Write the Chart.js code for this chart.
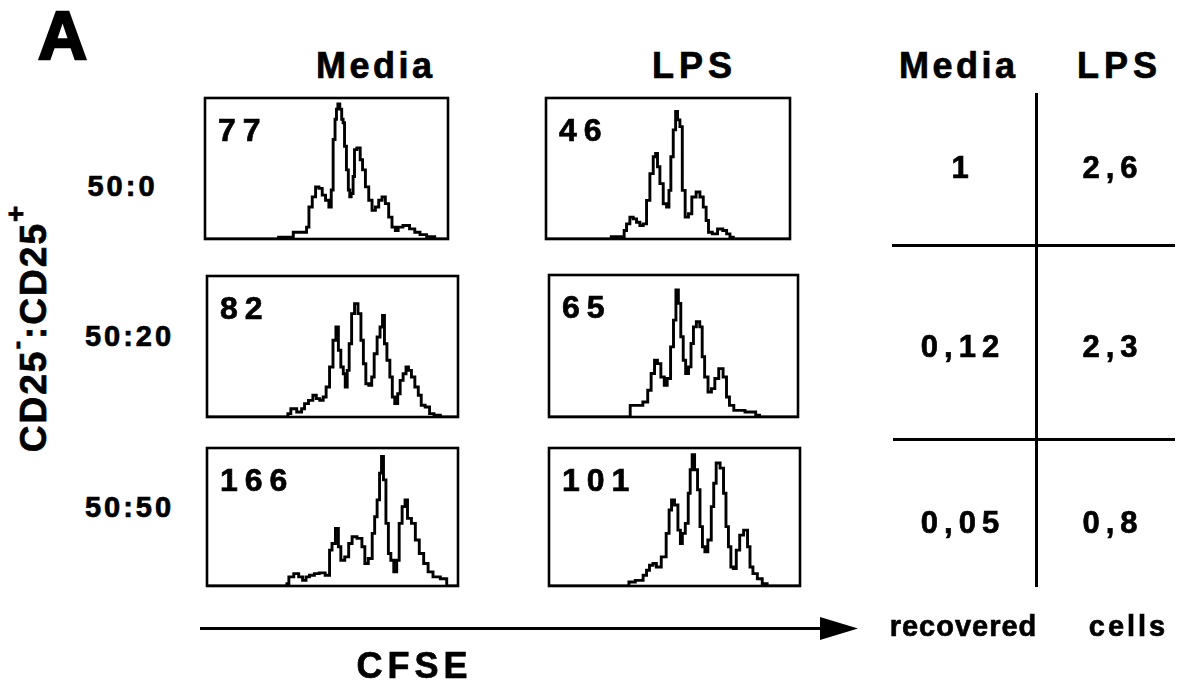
<!DOCTYPE html>
<html>
<head>
<meta charset="utf-8">
<script src="https://cdn.jsdelivr.net/npm/chart.js@4/dist/chart.umd.min.js"></script>
<style>
html,body{margin:0;padding:0;background:#fff;}
#fig{position:relative;width:1179px;height:688px;overflow:hidden;background:#fff;font-family:"Liberation Sans",Arial,Helvetica,sans-serif;font-weight:bold;color:#000;}
.t{position:absolute;white-space:nowrap;line-height:1;font-weight:bold;-webkit-text-stroke:0.7px #000;}
canvas{position:absolute;}
.ln{position:absolute;background:#000;}
</style>
</head>
<body>
<div id="fig"></div>
<script>
// ---- data ----
const columns = ["Media", "LPS"];
const rows = ["50:0", "50:20", "50:50"];
const panelCounts = [["77", "46"], ["82", "65"], ["166", "101"]];
const recovered = [["1", "2,6"], ["0,12", "2,3"], ["0,05", "0,8"]];

// CFSE channel (x) and relative cell count (y) for each histogram
const media_0_ch  = [0,77,78,92,94,106,108,111,115,118,122,125,129,132,134,136,138,139,141,143,145,146,148,150,152,153,155,157,158,162,165,167,171,174,178,181,185,188,192,195,199,202,205,212,219,223,230,237,247,256];
const media_0_cnt = [0,0,1.2,1.2,4.8,4.8,8.4,22.7,29.9,37,35.9,31.1,27.5,22.7,34.7,70.6,84.9,92.1,95.7,92.1,84.9,82.5,65.8,49,34.7,29.9,32.3,44.3,63.4,64.6,56.2,49,37,27.5,20.3,22.7,27.5,29.9,25.1,15.5,8.4,6,8.4,9.6,7.2,4.8,3.1,1.7,0,0];

const lps_0_ch  = [0,68,69,81,83,86,90,93,97,100,104,107,111,114,116,118,121,125,128,130,132,135,137,139,142,144,148,151,155,160,163,167,169,172,177,183,188,191,195,198,256];
const lps_0_cnt = [0,0,1.7,1.7,6,10.7,15.5,14.3,11.9,9.5,10.7,27.4,46.4,58.3,60.7,51.2,39.3,25,22.6,34.5,58.3,77.4,90.4,84.5,79.7,34.5,15.5,17.9,29.8,33.3,29.8,22.6,13.1,4.8,3.6,7.1,6,3.6,1.2,0,0];

const media_20_ch  = [0,82,83,88,95,98,101,106,110,113,117,120,123,127,130,133,135,138,140,142,144,146,149,152,156,158,161,163,167,169,172,175,178,180,182,185,188,190,193,196,198,202,204,207,210,214,217,220,225,229,234,242,256];
const media_20_cnt = [0,0,2.4,5.9,3.5,5.9,9.5,11.8,15.4,13,11.8,14.2,21.3,35.5,54.4,63.8,47.3,35.5,30.7,21.3,33.1,52,73.3,80.4,73.3,54.4,37.8,23.6,22.5,28.4,44.9,56.7,63.8,72.1,52,40.2,28.4,14.2,9.5,16.5,26,30.7,35.5,33.1,28.4,21.3,15.4,8.3,7.1,2.4,1.2,0,0];

const lps_20_ch  = [0,83,84,93,100,103,107,110,113,117,120,123,127,129,132,134,137,139,142,145,147,150,153,157,158,162,165,169,172,177,181,184,187,193,210,215,218,256];
const lps_20_cnt = [0,0,8.2,8.2,10.6,18.8,30.6,40,37.6,28.2,22.4,27.1,49.4,68.2,89.4,80,56.5,40,30.6,35.3,51.8,63.5,67.1,63.5,42.4,28.2,17.6,20,27.1,34.1,28.2,14.1,8.2,4.7,3.5,1.2,0,0];

const media_50_ch  = [0,81,82,85,92,95,100,102,107,112,117,124,126,129,133,135,138,143,146,150,156,160,162,167,170,172,175,177,179,181,184,186,189,192,195,197,201,203,206,211,214,219,223,228,233,243,246,256];
const media_50_cnt = [0,0,1.7,6.6,9,6.6,4.1,6.6,7.8,9,9.5,7.8,26,30.8,41.7,28.4,18.7,21.1,30.8,35.7,34.5,28.4,16.3,19.9,38.1,50.2,62.4,81.8,93.9,76.9,45.4,23.5,18.7,10.2,18.7,45.4,57.5,62.4,49,45.4,33.3,23.5,16.3,10.2,6.6,5.3,0,0];

const lps_50_ch  = [0,81,82,94,98,101,104,108,111,118,121,124,126,130,133,135,137,141,143,145,147,150,153,155,158,160,164,167,169,172,177,179,182,184,187,189,193,196,201,204,206,210,215,220,225,256];
const lps_50_cnt = [0,0,2.9,4.1,7.8,11.4,15,16.3,13.8,21.1,38.1,55.1,62.4,58.7,40.5,30.8,38.1,45.4,67.2,84.2,95.1,84.2,69.7,43,28.4,24.8,33.3,57.5,74.5,89.1,85.4,67.2,43,28.4,13.8,12.6,26,36.9,40.5,28.4,13.8,9,5.3,1.7,0,0];

const histX = [[media_0_ch, lps_0_ch], [media_20_ch, lps_20_ch], [media_50_ch, lps_50_ch]];
const histY = [[media_0_cnt, lps_0_cnt], [media_20_cnt, lps_20_cnt], [media_50_cnt, lps_50_cnt]];

// ---- layout ----
const fig = document.getElementById('fig');
const boxes = [
  [[205, 98, 243, 141], [546, 98, 244, 141]],
  [[207, 276, 251, 141], [549, 275, 249, 142]],
  [[207, 448, 251, 138], [549, 448, 251, 138]]
];

function text(str, cx, baseline, size, spacing, align, stroke) {
  const d = document.createElement('div');
  d.className = 't';
  d.style.fontSize = size + 'px';
  d.style.letterSpacing = spacing + 'px';
  if (stroke !== undefined) d.style.webkitTextStroke = stroke + 'px #000';
  d.textContent = str;
  d.style.top = (baseline - 0.846 * size) + 'px';
  d.style.left = cx + 'px';
  if (align !== 'left') {
    d.style.paddingLeft = spacing + 'px';
    d.style.transform = 'translateX(-50%)';
  }
  fig.appendChild(d);
  return d;
}
function line(x, y, w, h) {
  const d = document.createElement('div');
  d.className = 'ln';
  d.style.left = x + 'px'; d.style.top = y + 'px';
  d.style.width = w + 'px'; d.style.height = h + 'px';
  fig.appendChild(d);
}

// panel letter and headers
text('A', 38, 59, 68, 0, 'left', 2.5);
text(columns[0], 374, 78, 36, 3.5);
text(columns[1], 692, 78, 36, 5);
text(columns[0], 957, 78, 36, 3.5);
text(columns[1], 1117, 78, 36, 5);

// row labels
const rowCx = [121, 128, 128];
const rowBase = [197, 347, 518];
rows.forEach((r, i) => text(r, rowCx[i], rowBase[i], 29, 3));

// vertical label
const v = document.createElement('div');
v.className = 't';
v.style.fontSize = '37px';
v.style.letterSpacing = '2px';
v.innerHTML = 'CD25<span style="font-size:0.7em;position:relative;top:-0.8em">-</span>:CD25<span style="font-size:0.75em;position:relative;top:-0.75em">+</span>';
v.style.left = '33px';
v.style.top = '328px';
v.style.transform = 'translate(-50%,-50%) rotate(-90deg)';
fig.appendChild(v);

// frame plugin
const framePlugin = {
  id: 'frame',
  afterDraw(chart) {
    const a = chart.chartArea, c = chart.ctx;
    c.save();
    c.strokeStyle = '#000';
    c.lineWidth = 2.6;
    c.strokeRect(a.left, a.top, a.right - a.left, a.bottom - a.top);
    c.restore();
  }
};

// histograms
for (let r = 0; r < 3; r++) {
  for (let c = 0; c < 2; c++) {
    const [bx, by, bw, bh] = boxes[r][c];
    const pad = 2;
    const cv = document.createElement('canvas');
    cv.width = bw + 2 * pad; cv.height = bh + 2 * pad;
    cv.style.left = (bx - pad) + 'px'; cv.style.top = (by - pad) + 'px';
    cv.style.width = cv.width + 'px'; cv.style.height = cv.height + 'px';
    fig.appendChild(cv);
    const pts = histX[r][c].map((x, i) => ({ x: x, y: histY[r][c][i] }));
    new Chart(cv, {
      type: 'line',
      data: { datasets: [{ data: pts, borderColor: '#000', borderWidth: 2.9, pointRadius: 0, stepped: 'middle', fill: false, tension: 0 }] },
      options: {
        responsive: false, animation: false, events: [],
        layout: { padding: pad },
        plugins: { legend: { display: false }, tooltip: { enabled: false } },
        scales: {
          x: { type: 'linear', min: 0, max: 256, display: false },
          y: { min: 0, max: 100, display: false }
        }
      },
      plugins: [framePlugin]
    });
    text(panelCounts[r][c], bx + 13, by + 43, 32, 7, 'left');
  }
}

// arrow + CFSE
line(200, 627, 622, 3);
const svgNS = 'http://www.w3.org/2000/svg';
const svg = document.createElementNS(svgNS, 'svg');
svg.setAttribute('width', '1179'); svg.setAttribute('height', '688');
svg.style.position = 'absolute'; svg.style.left = '0'; svg.style.top = '0';
const tri = document.createElementNS(svgNS, 'polygon');
tri.setAttribute('points', '820,617 858,628.5 820,640');
tri.setAttribute('fill', '#000');
svg.appendChild(tri);
fig.appendChild(svg);
text('CFSE', 412, 678, 36, 5);

// table
line(1035, 93, 3, 494);
line(892, 244, 283, 3);
line(893, 438, 282, 3);
const valBase = [178, 357, 533];
const colCx = [960, 1110];
for (let r = 0; r < 3; r++) for (let c = 0; c < 2; c++) text(recovered[r][c], colCx[c], valBase[r], 31, 6);
text('recovered', 963, 637, 29, 1);
text('cells', 1127, 637, 29, 3);
</script>
</body>
</html>
